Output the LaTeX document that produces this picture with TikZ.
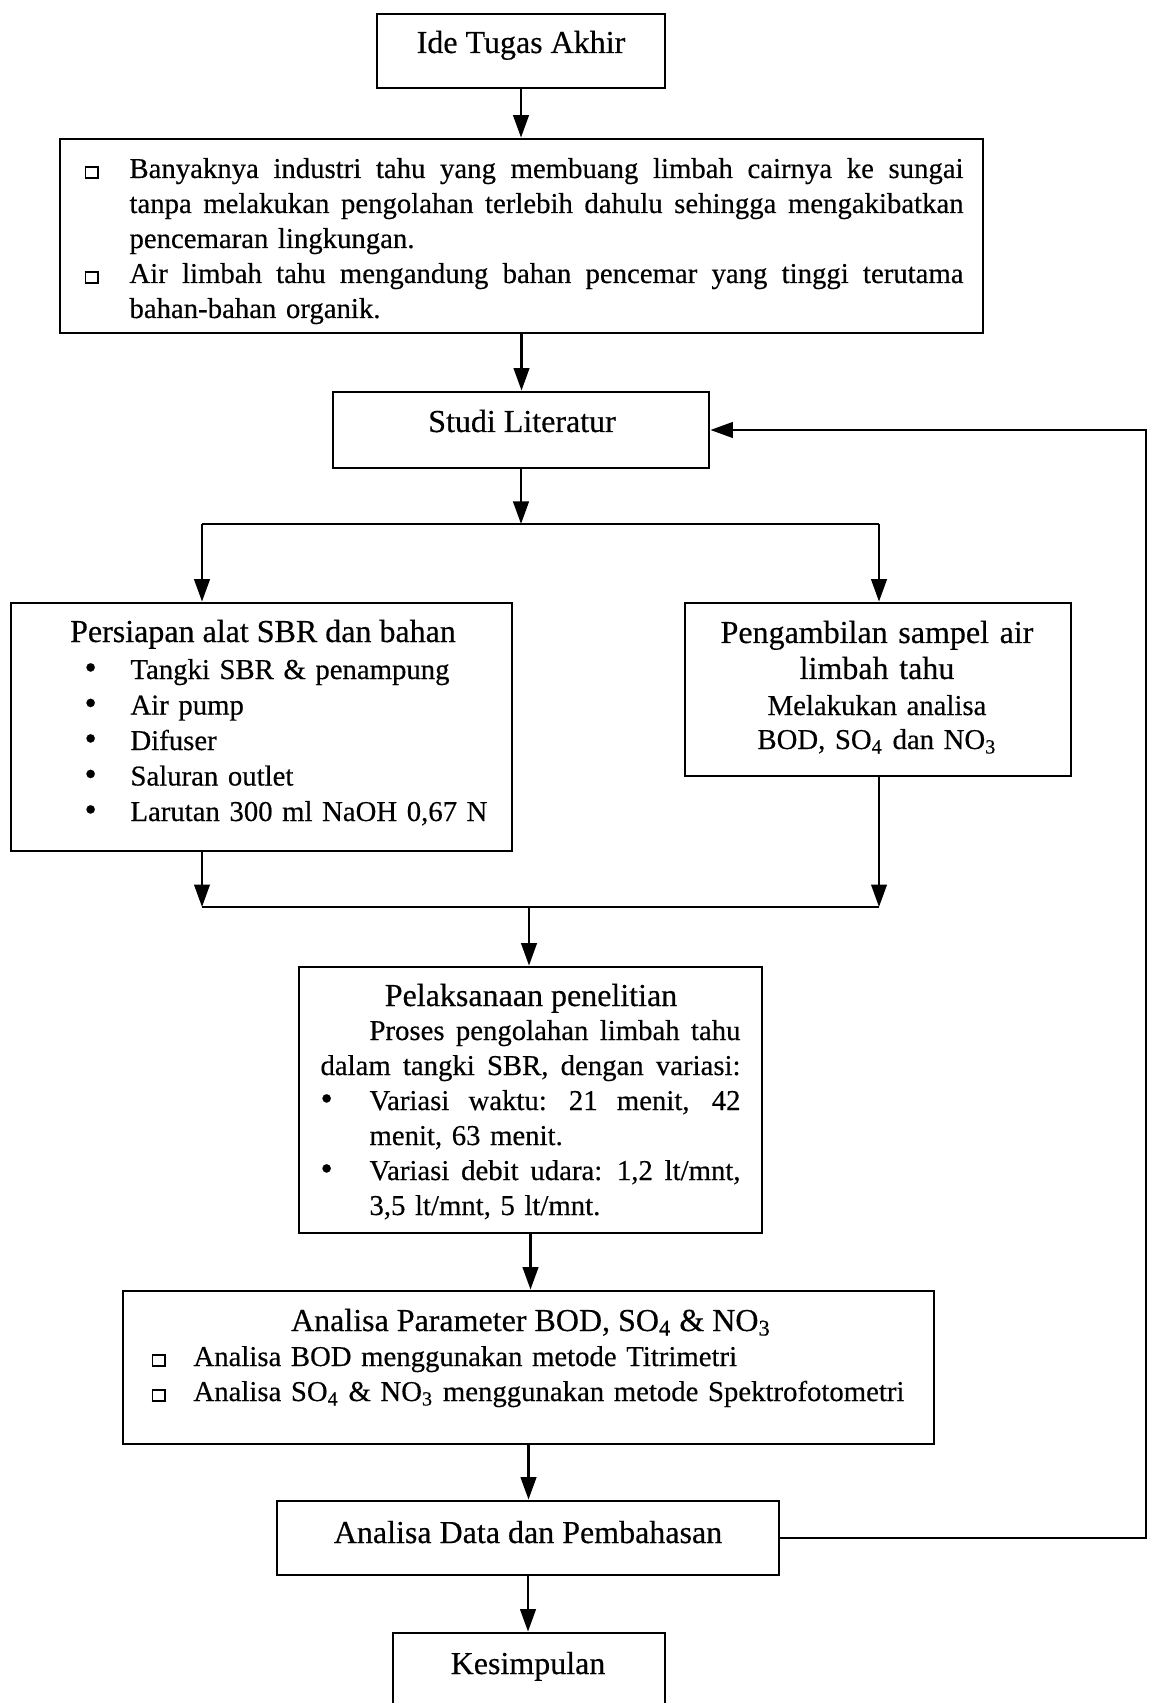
\documentclass[tikz,border=0pt]{standalone}
\usepackage{fontspec}
\setmainfont{Liberation Serif}[FakeBold=0.4]
\usetikzlibrary{arrows.meta,fit}
\newcommand{\sqb}{\raisebox{0.4pt}{\setlength{\fboxsep}{0pt}\setlength{\fboxrule}{0.75pt}\fbox{\rule{0pt}{3.6pt}\hspace{4.2pt}}}}
\newcommand{\rbul}{{\fontsize{14}{14}\selectfont\textbullet}}
\newcommand{\jl}[2]{\leavevmode\hbox to #1{\spaceskip=0.25em plus 3em\xspaceskip=0.35em plus 3em\relax #2}}
\begin{document}
\begin{tikzpicture}[x=0.4pt,y=-0.4pt,
  box/.style={draw, line width=1.1pt, inner sep=0pt},
  arr/.style={line width=1.05pt, -{Triangle[length=9pt,width=6.2pt]}},
  ln/.style={line width=1.05pt},
  txt/.style={inner sep=0pt, font=\fontsize{11.5}{14}\selectfont},
  ttl/.style={inner sep=0pt, font=\fontsize{12.8}{14.4}\selectfont}]
\fill[white] (0,0) rectangle (1151,1703);
\useasboundingbox (0,0) rectangle (1151,1703);
\clip (0,0) rectangle (1151,1703);

% boxes
\node[box, fit={(377,14) (665,88)}] (ide) {};
\node[box, fit={(60,139) (983,333)}] (prob) {};
\node[box, fit={(333,392) (709,468)}] (studi) {};
\node[box, fit={(11,603) (512,851)}] (persiapan) {};
\node[box, fit={(685,603) (1071,776)}] (sampel) {};
\node[box, fit={(299,967) (762,1233)}] (pelak) {};
\node[box, fit={(123,1291) (934,1444)}] (anpar) {};
\node[box, fit={(277,1501) (779,1575)}] (andata) {};
\node[box, fit={(393,1633) (665,1740)}] (kesim) {};

% texts
\node[ttl, anchor=base] (tide) at (521,53) {Ide Tugas Akhir};
\node[txt, anchor=base west, text width=351.6pt, align=left] (tprob) at (84,178) {%
\makebox[18pt][l]{\sqb}\jl{333.6pt}{Banyaknya industri tahu yang membuang limbah cairnya ke sungai}\\
\hspace*{18pt}\jl{333.6pt}{tanpa melakukan pengolahan terlebih dahulu sehingga mengakibatkan}\\
\hspace*{18pt}pencemaran lingkungan.\\
\makebox[18pt][l]{\sqb}\jl{333.6pt}{Air limbah tahu mengandung bahan pencemar yang tinggi terutama}\\
\hspace*{18pt}bahan-bahan organik.};
\node[ttl, anchor=base] (tstudi) at (522,432) {Studi Literatur};
\node[ttl, anchor=base] (tpers) at (263,642) {Persiapan alat SBR dan bahan};
\node[txt, anchor=base west, text width=180pt, align=left, font=\fontsize{11.5}{14.2}\selectfont] (tpersl) at (84,679) {%
\makebox[18.4pt][l]{\rbul}Tangki SBR \& penampung\\
\makebox[18.4pt][l]{\rbul}Air pump\\
\makebox[18.4pt][l]{\rbul}Difuser\\
\makebox[18.4pt][l]{\rbul}Saluran outlet\\
\makebox[18.4pt][l]{\rbul}Larutan 300 ml NaOH 0,67 N};
\node[ttl, anchor=base, text width=152pt, align=center] (tsampel) at (877,643) {%
Pengambilan sampel air\\ limbah tahu};
\node[txt, anchor=base, text width=152pt, align=center, font=\fontsize{11.5}{13.6}\selectfont] (tsampel2) at (877,715) {%
Melakukan analisa\\ BOD, SO\textsubscript{4} dan NO\textsubscript{3}};
\node[ttl, anchor=base] (tpelak) at (531,1006) {Pelaksanaan penelitian};
\node[txt, anchor=base west, text width=168pt, align=left] (tpelakl) at (320,1040) {%
\hspace*{19.6pt}\jl{148.4pt}{Proses pengolahan limbah tahu}\\
\jl{168pt}{dalam tangki SBR, dengan variasi:}\\
\makebox[19.6pt][l]{\rbul}\jl{148.4pt}{Variasi waktu: 21 menit, 42}\\
\hspace*{19.6pt}menit, 63 menit.\\
\makebox[19.6pt][l]{\rbul}\jl{148.4pt}{Variasi debit udara: 1,2 lt/mnt,}\\
\hspace*{19.6pt}3,5 lt/mnt, 5 lt/mnt.};
\node[ttl, anchor=base] (tanpar) at (531,1331) {Analisa Parameter BOD, SO\textsubscript{4} \& NO\textsubscript{3}};
\node[txt, anchor=base west, text width=320pt, align=left] (tanparl) at (151,1366) {%
\makebox[16.8pt][l]{\sqb}Analisa BOD menggunakan metode Titrimetri\\
\makebox[16.8pt][l]{\sqb}Analisa SO\textsubscript{4} \& NO\textsubscript{3} menggunakan metode Spektrofotometri};
\node[ttl, anchor=base] (tandata) at (528,1543) {Analisa Data dan Pembahasan};
\node[ttl, anchor=base] (tkesim) at (528,1674) {Kesimpulan};

% junction coordinates
\coordinate (spL) at (202,524);
\coordinate (spR) at (879,524);
\coordinate (mgL) at (202,907);
\coordinate (mgR) at (879,907);
\coordinate (mg) at (529,907);
\coordinate (fbx) at (1146,0);

% connectors
\draw[arr] (ide.south) -- (ide.south |- prob.north);
\draw[arr] (prob.south) -- (prob.south |- studi.north);
\draw[arr] (studi.south) -- (studi.south |- spL);
\draw[ln] (spL) -- (spR);
\draw[arr] (spL) -- (spL |- persiapan.north);
\draw[arr] (spR) -- (spR |- sampel.north);
\draw[arr] (persiapan.south -| mgL) -- (mgL);
\draw[arr] (sampel.south -| mgR) -- (mgR);
\draw[ln] (mgL) -- (mgR);
\draw[arr] (mg) -- (mg |- pelak.north);
\draw[arr] (pelak.south) -- (pelak.south |- anpar.north);
\draw[arr] (anpar.south) -- (anpar.south |- andata.north);
\draw[arr] (andata.south) -- (andata.south |- kesim.north);
\draw[arr] (andata.east) -- (andata.east -| fbx) -- (studi.east -| fbx) -- (studi.east);
\end{tikzpicture}
\end{document}
